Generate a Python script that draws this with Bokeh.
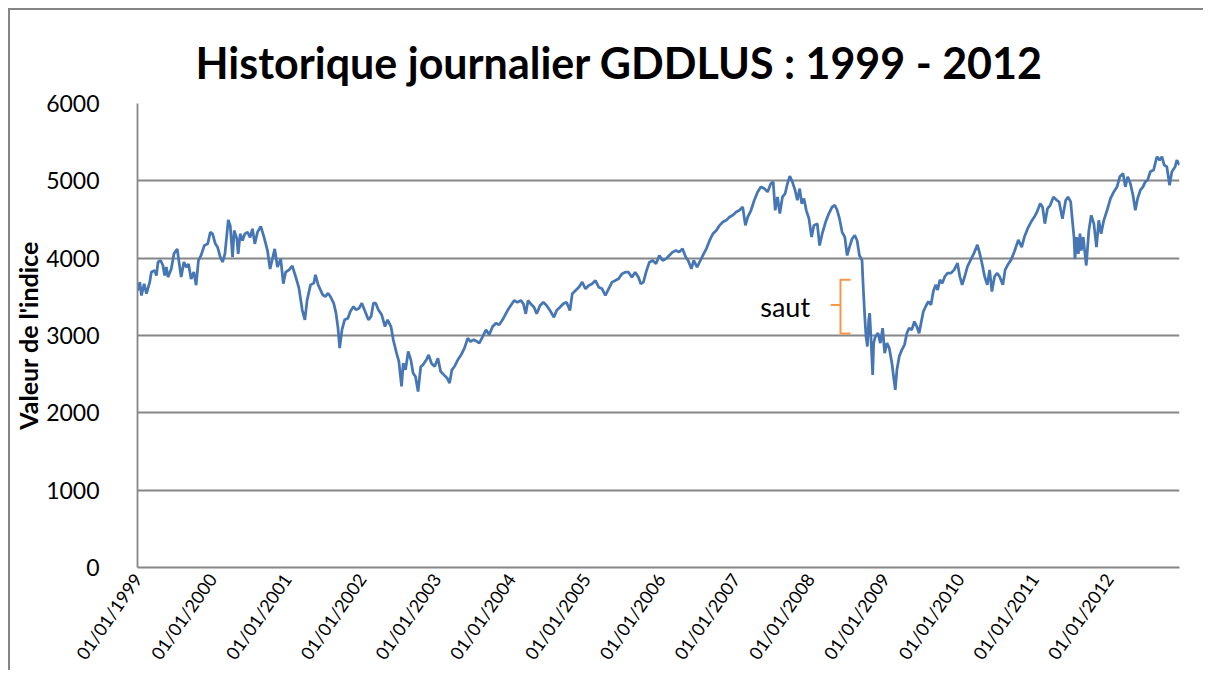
import math
from datetime import datetime
from bokeh.plotting import figure
from bokeh.models import Range1d, FixedTicker, DatetimeTickFormatter, Label, Title
from bokeh.embed import file_html
from bokeh.resources import INLINE

# ---- data (decimal year, index value) ----
years = [
    1999.000, 1999.031, 1999.053, 1999.089, 1999.120, 1999.164, 1999.186, 1999.230, 1999.253, 1999.275,
    1999.310, 1999.341, 1999.363, 1999.386, 1999.408, 1999.452, 1999.488, 1999.532, 1999.550, 1999.585,
    1999.621, 1999.652, 1999.683, 1999.718, 1999.754, 1999.785, 1999.816, 1999.851, 1999.895, 1999.940,
    1999.975, 2000.006, 2000.042, 2000.073, 2000.108, 2000.139, 2000.170, 2000.197, 2000.215, 2000.241,
    2000.272, 2000.294, 2000.330, 2000.347, 2000.374, 2000.405, 2000.436, 2000.472, 2000.507, 2000.538,
    2000.569, 2000.605, 2000.649, 2000.693, 2000.738, 2000.773, 2000.804, 2000.835, 2000.871, 2000.915,
    2000.950, 2000.981, 2001.026, 2001.070, 2001.114, 2001.159, 2001.203, 2001.238, 2001.269, 2001.314,
    2001.358, 2001.380, 2001.416, 2001.447, 2001.478, 2001.513, 2001.549, 2001.580, 2001.624, 2001.655,
    2001.682, 2001.704, 2001.735, 2001.770, 2001.815, 2001.846, 2001.890, 2001.921, 2001.965, 2002.001,
    2002.045, 2002.089, 2002.125, 2002.156, 2002.187, 2002.222, 2002.267, 2002.311, 2002.346, 2002.391,
    2002.422, 2002.466, 2002.497, 2002.533, 2002.555, 2002.586, 2002.622, 2002.657, 2002.688, 2002.719,
    2002.754, 2002.790, 2002.821, 2002.865, 2002.896, 2002.932, 2002.976, 2003.020, 2003.056, 2003.100,
    2003.144, 2003.176, 2003.207, 2003.242, 2003.286, 2003.331, 2003.375, 2003.419, 2003.455, 2003.499,
    2003.543, 2003.574, 2003.619, 2003.663, 2003.707, 2003.752, 2003.796, 2003.840, 2003.885, 2003.951,
    2003.995, 2004.040, 2004.084, 2004.129, 2004.164, 2004.195, 2004.226, 2004.261, 2004.306, 2004.341,
    2004.386, 2004.430, 2004.474, 2004.519, 2004.572, 2004.607, 2004.652, 2004.696, 2004.740, 2004.785,
    2004.816, 2004.860, 2004.904, 2004.949, 2004.993, 2005.037, 2005.082, 2005.126, 2005.170, 2005.215,
    2005.259, 2005.303, 2005.348, 2005.392, 2005.436, 2005.481, 2005.525, 2005.569, 2005.614, 2005.658,
    2005.702, 2005.733, 2005.769, 2005.804, 2005.848, 2005.893, 2005.937, 2005.981, 2006.026, 2006.070,
    2006.114, 2006.159, 2006.203, 2006.247, 2006.292, 2006.336, 2006.367, 2006.411, 2006.442, 2006.487,
    2006.531, 2006.575, 2006.611, 2006.655, 2006.699, 2006.744, 2006.788, 2006.832, 2006.877, 2006.921,
    2006.965, 2007.010, 2007.054, 2007.098, 2007.134, 2007.165, 2007.209, 2007.253, 2007.298, 2007.342,
    2007.387, 2007.431, 2007.475, 2007.506, 2007.533, 2007.564, 2007.595, 2007.630, 2007.666, 2007.697,
    2007.728, 2007.763, 2007.799, 2007.830, 2007.861, 2007.888, 2007.918, 2007.949, 2007.985, 2008.020,
    2008.051, 2008.096, 2008.127, 2008.162, 2008.207, 2008.251, 2008.295, 2008.331, 2008.362, 2008.393,
    2008.428, 2008.464, 2008.495, 2008.526, 2008.561, 2008.597, 2008.628, 2008.659, 2008.694, 2008.703,
    2008.716, 2008.730, 2008.747, 2008.765, 2008.783, 2008.796, 2008.814, 2008.836, 2008.849, 2008.871,
    2008.907, 2008.938, 2008.969, 2008.996, 2009.027, 2009.058, 2009.093, 2009.115, 2009.138, 2009.160,
    2009.191, 2009.226, 2009.261, 2009.293, 2009.324, 2009.359, 2009.394, 2009.426, 2009.457, 2009.483,
    2009.514, 2009.545, 2009.581, 2009.616, 2009.647, 2009.678, 2009.705, 2009.736, 2009.767, 2009.802,
    2009.838, 2009.882, 2009.926, 2009.971, 2010.002, 2010.033, 2010.068, 2010.104, 2010.148, 2010.192,
    2010.237, 2010.268, 2010.299, 2010.334, 2010.370, 2010.401, 2010.432, 2010.467, 2010.503, 2010.534,
    2010.578, 2010.609, 2010.644, 2010.689, 2010.733, 2010.786, 2010.831, 2010.866, 2010.910, 2010.955,
    2010.999, 2011.035, 2011.079, 2011.110, 2011.141, 2011.176, 2011.212, 2011.256, 2011.301, 2011.332,
    2011.376, 2011.420, 2011.451, 2011.487, 2011.509, 2011.531, 2011.544, 2011.566, 2011.589, 2011.611,
    2011.629, 2011.655, 2011.673, 2011.695, 2011.730, 2011.762, 2011.797, 2011.832, 2011.863, 2011.894,
    2011.930, 2011.974, 2012.019, 2012.063, 2012.107, 2012.143, 2012.187, 2012.218, 2012.249, 2012.285,
    2012.320, 2012.351, 2012.382, 2012.418, 2012.453, 2012.484, 2012.515, 2012.551, 2012.595, 2012.639,
    2012.675, 2012.706, 2012.737, 2012.772, 2012.808, 2012.839, 2012.883, 2012.905, 2012.941,
]
values = [
    3580, 3690, 3517, 3670, 3540, 3690, 3820, 3840, 3775, 3950,
    3970, 3905, 3775, 3885, 3755, 3860, 4056, 4120, 3990, 3755,
    3950, 3885, 3925, 3730, 3820, 3650, 3970, 4035, 4165, 4185,
    4336, 4315, 4185, 4140, 4013, 3950, 4056, 4315, 4496, 4420,
    4013, 4358, 4250, 4056, 4315, 4228, 4315, 4336, 4270, 4380,
    4185, 4336, 4410, 4270, 4100, 3860, 3990, 4120, 3885, 3990,
    3670, 3820, 3850, 3900, 3763, 3612, 3332, 3203, 3461, 3655,
    3677, 3784, 3655, 3590, 3526, 3504, 3547, 3504, 3418, 3289,
    3095, 2836, 3073, 3203, 3224, 3310, 3375, 3332, 3353, 3418,
    3310, 3203, 3246, 3418, 3418, 3332, 3267, 3116, 3203, 3116,
    2944, 2772, 2664, 2341, 2642, 2556, 2793, 2685, 2513, 2470,
    2276, 2599, 2621, 2685, 2750, 2642, 2599, 2707, 2534, 2491,
    2448, 2384, 2556, 2599, 2685, 2750, 2836, 2966, 2922, 2944,
    2922, 2901, 2987, 3073, 3009, 3116, 3159, 3138, 3203, 3323,
    3388, 3453, 3431, 3453, 3410, 3280, 3453, 3410, 3366, 3280,
    3388, 3431, 3388, 3323, 3237, 3323, 3366, 3410, 3431, 3323,
    3539, 3582, 3625, 3690, 3604, 3647, 3668, 3711, 3625, 3604,
    3517, 3604, 3690, 3711, 3733, 3797, 3819, 3819, 3754, 3819,
    3754, 3668, 3690, 3819, 3948, 3970, 3927, 4034, 3970, 3991,
    4034, 4078, 4099, 4078, 4121, 4013, 3970, 3862, 3970, 3884,
    3970, 4056, 4121, 4229, 4316, 4359, 4424, 4467, 4489, 4532,
    4554, 4597, 4619, 4662, 4424, 4532, 4619, 4749, 4857, 4922,
    4900, 4857, 4965, 4987, 4619, 4792, 4576, 4792, 4835, 4965,
    5060, 4987, 4879, 4749, 4900, 4706, 4771, 4619, 4511, 4273,
    4424, 4446, 4164, 4316, 4467, 4576, 4662, 4684, 4619, 4511,
    4338, 4273, 4035, 4143, 4251, 4294, 4229, 4035, 3970, 3763,
    3504, 3246, 2987, 2858, 3203, 3289, 2944, 2491, 2901, 2987,
    3030, 2901, 3095, 2772, 2901, 2836, 2642, 2470, 2298, 2556,
    2728, 2815, 2879, 3030, 3095, 3073, 3181, 3116, 3030, 3160,
    3310, 3375, 3440, 3396, 3569, 3655, 3590, 3720, 3677, 3763,
    3806, 3806, 3849, 3935, 3763, 3655, 3763, 3892, 3978, 4065,
    4172, 4065, 3935, 3763, 3655, 3849, 3569, 3763, 3806, 3763,
    3655, 3849, 3914, 3978, 4086, 4237, 4143, 4273, 4381, 4467,
    4532, 4597, 4706, 4662, 4446, 4641, 4684, 4792, 4749, 4727,
    4511, 4749, 4792, 4727, 4489, 4273, 3991, 4273, 4056, 4316,
    4100, 4273, 4100, 3905, 4359, 4554, 4446, 4143, 4489, 4316,
    4489, 4619, 4771, 4857, 4922, 5052, 5095, 4922, 5052, 4965,
    4814, 4619, 4771, 4879, 4922, 4987, 5009, 5117, 5139, 5312,
    5268, 5312, 5204, 5182, 4944, 5117, 5182, 5268, 5204,
]
tick_years = list(range(1999, 2013))
y_ticks = [0, 1000, 2000, 3000, 4000, 5000, 6000]

title_text = "Historique journalier GDDLUS : 1999 - 2012"
y_title = "Valeur de l'indice"
note_text = "saut"
# annotation placement (decimal year / index value)
note_x, note_y = 2008.00, 3370
brace_x, brace_hook_x, brace_tick_x = 2008.406, 2008.540, 2008.286
brace_top, brace_mid, brace_bot = 3721, 3394, 3027


def to_ms(y):
    yr = int(math.floor(y))
    start = datetime(yr, 1, 1)
    end = datetime(yr + 1, 1, 1)
    d = start + (end - start) * (y - yr)
    return (d - datetime(1970, 1, 1)).total_seconds() * 1000.0


xs = [to_ms(y) for y in years]

FONT = "Lato"
GRID = "#868686"

p = figure(
    width=1195, height=662,
    x_axis_type="datetime",
    x_range=Range1d(to_ms(1999.0), xs[-1]),
    y_range=Range1d(0, 6000),
    output_backend="svg", toolbar_location=None,
    min_border_left=120, min_border_right=26, min_border_top=93, min_border_bottom=105,
    background_fill_color="white", border_fill_color="white",
)
p.styles = {"margin-left": "8px", "margin-top": "8px",
            "border-top": "2px solid #868686", "border-left": "2px solid #868686"}
p.outline_line_color = None

p.title = Title(text=title_text, align="left", text_font=FONT, text_font_size="43px",
                text_font_style="bold", text_color="black", standoff=31, offset=58)

p.line(xs, values, line_color="#4676B4", line_width=2.75)

# axes
p.xgrid.visible = False
p.ygrid.grid_line_color = GRID
p.ygrid.grid_line_width = 1.8
p.yaxis.ticker = FixedTicker(ticks=y_ticks)
p.xaxis.ticker = FixedTicker(ticks=[to_ms(y) for y in tick_years])
p.xaxis.formatter = DatetimeTickFormatter(years="%d/%m/%Y", months="%d/%m/%Y", days="%d/%m/%Y",
                                          hours="%d/%m/%Y", context=None)
for ax in (p.xaxis[0], p.yaxis[0]):
    ax.axis_line_color = GRID
    ax.axis_line_width = 1.8
    ax.major_tick_line_color = None
    ax.minor_tick_line_color = None
    ax.major_tick_out = 0
    ax.major_tick_in = 0
    ax.major_label_text_font = FONT
    ax.major_label_text_color = "black"

p.yaxis.major_label_text_font_size = "23px"
p.yaxis.major_label_standoff = 38
p.yaxis.axis_label = y_title
p.yaxis.axis_label_text_font = FONT
p.yaxis.axis_label_text_font_size = "25px"
p.yaxis.axis_label_text_font_style = "bold"
p.yaxis.axis_label_text_color = "black"
p.yaxis.axis_label_standoff = 0

p.xaxis.major_label_text_font_size = "18px"
p.xaxis.major_label_orientation = math.radians(55)
p.xaxis.major_label_standoff = 8

# annotation "saut" with brace
p.add_layout(Label(x=to_ms(note_x), y=note_y, text=note_text, text_align="right",
                   text_baseline="middle", text_font=FONT, text_font_size="27px",
                   text_color="black"))
bx = [to_ms(v) for v in (brace_hook_x, brace_x, brace_x, brace_tick_x, brace_x, brace_x, brace_hook_x)]
by = [brace_top, brace_top, brace_mid, brace_mid, brace_mid, brace_bot, brace_bot]
p.line(bx, by, line_color="#F79646", line_width=2, line_join="round")

open("out.html", "w").write(file_html(p, INLINE))
